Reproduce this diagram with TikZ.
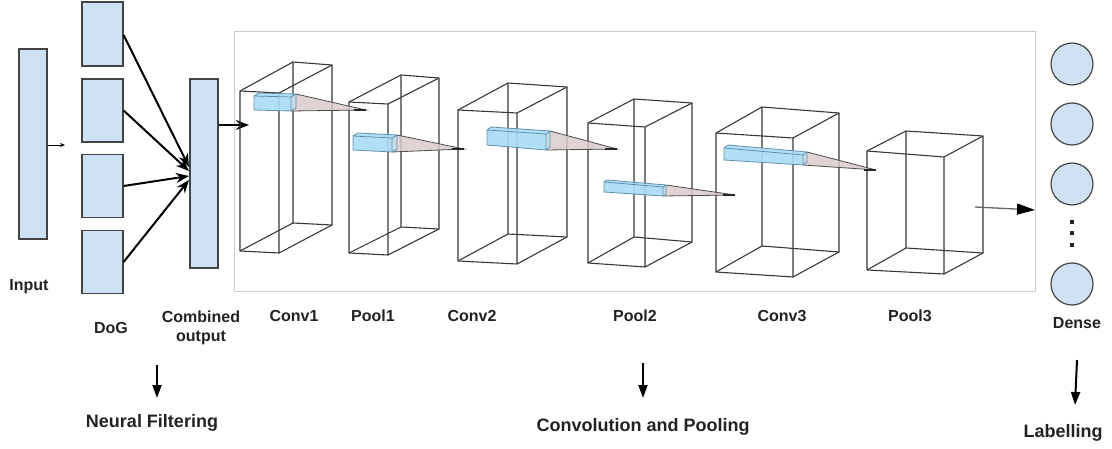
\documentclass[tikz,border=0pt]{standalone}
\usepackage{fontspec}
\setmainfont{Liberation Sans}
\usetikzlibrary{arrows.meta,calc}
\definecolor{boxfill}{HTML}{CFE2F3}
\definecolor{boxdraw}{HTML}{444444}
\definecolor{slabfill}{HTML}{A9DDF5}
\definecolor{slabdraw}{HTML}{5F8FAF}
\definecolor{slabend}{HTML}{C9DCE6}
\definecolor{trifill}{HTML}{DACBCB}
\definecolor{framegray}{HTML}{CCCCCC}
\definecolor{txt}{HTML}{222222}
\tikzset{
  blk/.style={draw=boxdraw, fill=boxfill, line width=1.2pt, inner sep=0pt},
  neuron/.style={circle, draw=boxdraw, fill=boxfill, line width=1.2pt, inner sep=0pt, minimum size=42pt},
  dotsq/.style={fill=txt, inner sep=0pt, minimum size=4pt},
  lab/.style={font=\bfseries\fontsize{16}{19}\selectfont, text=txt, inner sep=0pt, align=center},
  biglab/.style={font=\bfseries\fontsize{18}{21}\selectfont, text=txt, inner sep=0pt},
  cubeline/.style={draw=black!78, line width=1.1pt, line join=round},
  conn/.style={-{Stealth[length=13pt,width=10pt]}, line width=2pt},
  thinconn/.style={-{Stealth[length=5pt,width=4pt]}, line width=0.8pt},
  down/.style={-{Triangle[length=13pt,width=9pt]}, line width=2pt},
}
\newcommand{\cuboid}[8]{%
  \draw[cubeline] (#5) -- (#6) -- (#8) -- (#7) -- cycle;
  \draw[cubeline] (#1) -- (#5) (#2) -- (#6) (#3) -- (#7) (#4) -- (#8);
  \draw[cubeline] (#1) -- (#2) -- (#4) -- (#3) -- cycle;}
% slab: front TL, TR, BR, BL, offset, apex
\newcommand{\kslab}[6]{%
  \fill[trifill, fill opacity=.85] ($(#2)+(#5)$) -- (#6) -- (#3) -- cycle;
  \draw[black!70, line width=.8pt] ($(#2)+(#5)$) -- (#6) -- (#3);
  \draw[black!85, line width=1.1pt] ($(#6)+(-12,0)$) -- (#6);
  \fill[slabfill, fill opacity=.9] (#4) -- (#1) -- ($(#1)+(#5)$) -- ($(#2)+(#5)$) -- (#2) -- (#3) -- cycle;
  \fill[slabend] (#2) -- ($(#2)+(#5)$) -- ($(#3)+(#5)$) -- (#3) -- cycle;
  \draw[slabdraw, line width=.8pt, line join=round] (#1) -- (#2) -- (#3) -- (#4) -- cycle
     (#1) -- ($(#1)+(#5)$) -- ($(#2)+(#5)$) -- (#2)
     ($(#2)+(#5)$) -- ($(#3)+(#5)$) -- (#3);}
\begin{document}
\begin{tikzpicture}[x=1pt,y=-1pt]
\useasboundingbox (0,0) rectangle (1112,449);
% frame
\node[draw=framegray, line width=1pt, minimum width=801pt, minimum height=260pt, inner sep=0pt] (frame) at (634.5,162) {};
% input and DoG
\node[blk, minimum width=28pt, minimum height=190pt] (inp) at (33,144) {};
\node[blk, minimum width=41pt, minimum height=64pt] (dog1) at (102.5,34) {};
\node[blk, minimum width=41pt, minimum height=63pt] (dog2) at (102.5,110.5) {};
\node[blk, minimum width=41pt, minimum height=63pt] (dog3) at (102.5,186) {};
\node[blk, minimum width=41pt, minimum height=63pt] (dog4) at (102.5,262) {};
\node[blk, minimum width=28pt, minimum height=189pt] (comb) at (204,173.5) {};
\coordinate (inpa) at (65,145);
\draw[thinconn] (inp.east |- inpa) -- (inpa);
\coordinate (t1) at (189,167);
\coordinate (t2) at (189,171);
\coordinate (t3) at (189,176);
\coordinate (t4) at (189,180);
\draw[conn] ([yshift=-1pt]dog1.east) -- (t1);
\draw[conn] (dog2.east) -- (t2);
\draw[conn] (dog3.east) -- (t3);
\draw[conn] (dog4.east) -- (t4);
\coordinate (cf) at (249,125);
\draw[conn] (comb.east |- cf) -- (cf);
% cuboids
\cuboid{240,91}{279,93}{240,251}{279,253}{293,62}{332,65}{293,223}{332,225}
\cuboid{349,102}{388,104}{349,253}{388,255}{401,75}{439,78}{401,227}{439,229}
\cuboid{458,110}{517,113}{458,261}{517,264}{508,83}{567,87}{508,234}{567,237}
\cuboid{588,123}{645,127}{588,263}{645,267}{634,99}{692,103}{634,237}{692,242}
\cuboid{716,133}{793,138}{716,272}{793,277}{762,107}{839,113}{762,246}{839,252}
\cuboid{867,151}{944,157}{867,270}{944,274}{906,131}{983,136}{906,248}{983,253}
% kernels
\kslab{254,96}{291,97}{291,111}{254,110}{5,-3}{366,110}
\kslab{353,136}{392,138}{392,152}{353,150}{5,-3}{464,149}
\kslab{487,130}{546,134}{546,150}{487,145}{4,-3}{617,149}
\kslab{604,182}{663,187}{663,196}{604,192}{3,-2}{735,195}
\kslab{724,148}{803,155}{803,165}{724,160}{4,-3}{876,170}
% dense
\node[neuron] (d1) at (1072,64) {};
\node[neuron] (d2) at (1072,124) {};
\node[neuron] (d3) at (1072,184) {};
\node[neuron] (d4) at (1072,284) {};
\node[dotsq] (dt1) at (1072,222) {};
\node[dotsq] (dt2) at (1072,233) {};
\node[dotsq] (dt3) at (1072,245) {};
\coordinate (p3o) at (975,207);
\coordinate (dn) at (1035,210);
\draw[draw=black!60, line width=1.3pt, -{Triangle[length=18pt,width=11pt,color=black]}] (p3o) -- (dn);
% labels
\node[lab] (linp) at (29,287) {Input};
\node[lab] (ldog) at (111,328) {DoG};
\node[lab] (lcomb) at (201,328) {Combined\\output};
\node[lab] (lc1) at (294,316) {Conv1};
\node[lab] (lp1) at (373,316) {Pool1};
\node[lab] (lc2) at (472,316) {Conv2};
\node[lab] (lp2) at (635,316) {Pool2};
\node[lab] (lc3) at (782,316) {Conv3};
\node[lab] (lp3) at (910,316) {Pool3};
\node[lab] (lden) at (1077,323) {Dense};
% bottom
\coordinate (nfa) at (157,365);
\coordinate (nfb) at (157,398);
\draw[down] (nfa) -- (nfb);
\coordinate (cpa) at (643,363);
\coordinate (cpb) at (643,398);
\draw[down] (cpa) -- (cpb);
\coordinate (lba) at (1077,360);
\coordinate (lbb) at (1075,405);
\draw[down] (lba) -- (lbb);
\node[biglab] (nf) at (152,423) {Neural Filtering};
\node[biglab] (cp) at (643,427) {Convolution and Pooling};
\node[biglab] (lb) at (1063,433) {Labelling};
\end{tikzpicture}
\end{document}
